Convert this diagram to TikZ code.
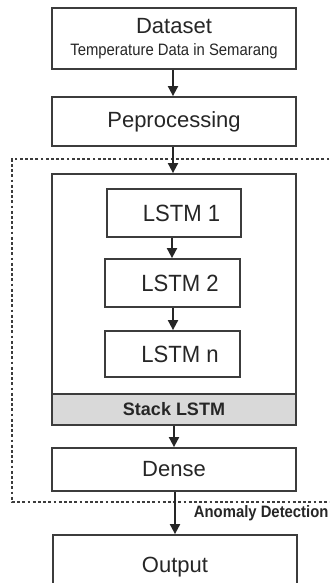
\documentclass[tikz,border=0pt]{standalone}
\usepackage{fontspec}
\setmainfont{Liberation Sans}
\newfontfamily\narrowsans[FakeStretch=0.9]{Liberation Sans}
\newfontfamily\layersans[FakeStretch=0.94]{Liberation Sans}
\usetikzlibrary{arrows.meta}
\definecolor{ink}{HTML}{262626}
\definecolor{edge}{HTML}{3C3C3C}
\definecolor{band}{HTML}{D9D9D9}
\tikzset{
  x=1pt, y=-1pt,
  blockbox/.style={draw=edge, line width=1.2pt, fill=white, text=ink,
    minimum width=244pt, inner sep=0pt, align=center,
    font=\fontsize{22}{26}\selectfont},
  layerbox/.style={blockbox, minimum width=134pt,
    font=\layersans\fontsize{23.5}{26}\selectfont},
  flow/.style={draw=ink, line width=1.9pt,
    -{Triangle[length=10pt,width=10pt]}, shorten >=0.3pt},
  groupline/.style={draw=edge, line width=1.2pt, dash pattern=on 2.8pt off 2.4pt}
}
\begin{document}
\begin{tikzpicture}
\useasboundingbox (0,0) rectangle (329,583);
\clip (0,0) rectangle (329,583);
\fill[white] (0,0) rectangle (329,583);

% dashed frame around the network part
\draw[groupline] (345,159) -- (12,159) -- (12,502) -- (345,502);

% pipeline blocks
\node[blockbox, minimum height=61pt] (dataset) at (174,38.5)
  {Dataset\\[-4pt]{\narrowsans\fontsize{16.5}{18}\selectfont Temperature Data in Semarang}};
\node[blockbox, minimum height=49pt] (prep) at (174,121.5) {Peprocessing};

% stacked LSTM container
\node[blockbox, minimum height=251pt] (stack) at (174,299.5) {};
\node[blockbox, minimum height=31pt, fill=band,
  font=\bfseries\fontsize{18}{20}\selectfont] (stacklabel) at (174,409.5) {Stack LSTM};

\node[layerbox, minimum height=48pt] (lstma) at (174,213) {\hspace*{15pt}LSTM 1};
\node[layerbox, minimum height=48pt, minimum width=135pt] (lstmb) at (172.5,283) {\hspace*{15pt}LSTM 2};
\node[layerbox, minimum height=46pt, minimum width=135pt] (lstmn) at (172.5,354) {\hspace*{15pt}LSTM n};

\node[blockbox, minimum height=43pt] (dense) at (174,469.5) {Dense};
\node[blockbox, minimum height=65pt] (output) at (175,567.5) {Output};

% connectors
\draw[flow] (dataset.south -| 173,0) -- (prep.north -| 173,0);
\draw[flow] (prep.south -| 173,0) -- (stack.north -| 173,0);
\draw[flow] (lstma.south -| 172,0) -- (lstmb.north -| 172,0);
\draw[flow] (lstmb.south -| 173,0) -- (lstmn.north -| 173,0);
\draw[flow] (stacklabel.south -| 174,0) -- (dense.north -| 174,0);
\draw[flow] (dense.south -| 175,0) -- (output.north -| 175,0)
  node[pos=0.5, right=18pt, inner sep=0pt, text=ink,
    font=\narrowsans\bfseries\fontsize{16.5}{18}\selectfont] (anomaly) {Anomaly Detection};
\end{tikzpicture}
\end{document}
